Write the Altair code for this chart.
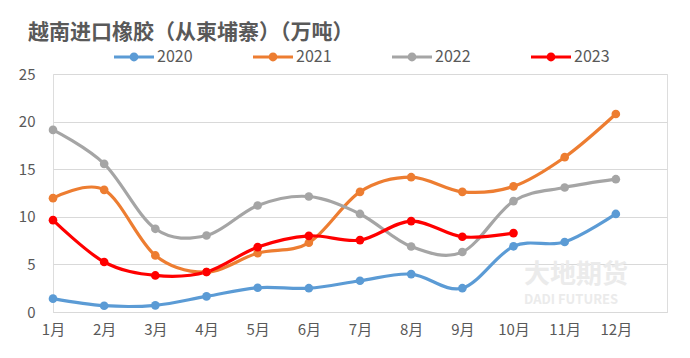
import altair as alt
import pandas as pd

months = list(range(1, 13))
years = ["2020", "2021", "2022", "2023"]
v2020 = [1.4, 0.66, 0.7, 1.64, 2.55, 2.5, 3.28, 3.98, 2.5, 6.9, 7.35, 10.3]
v2021 = [11.96, 12.83, 5.94, 4.2, 6.19, 7.27, 12.62, 14.16, 12.62, 13.2, 16.26, 20.8]
v2022 = [19.13, 15.56, 8.74, 8.04, 11.19, 12.13, 10.3, 6.88, 6.3, 11.65, 13.08, 13.95]
v2023 = [9.65, 5.25, 3.84, 4.2, 6.82, 8.0, 7.55, 9.55, 7.9, 8.29]
colors = ["#5B9BD5", "#ED7D31", "#A5A5A5", "#FF0000"]
title_text = "越南进口橡胶（从柬埔寨）（万吨）"
y_ticks = [0, 5, 10, 15, 20, 25]

rows = []
for yr, vals in zip(years, [v2020, v2021, v2022, v2023]):
    for m, v in zip(months, vals):
        rows.append({"year": yr, "month": m, "value": v})
df = pd.DataFrame(rows)

FONT = "Noto Sans CJK SC"
TXT = "#595959"

x = alt.X("month:Q", scale=alt.Scale(domain=[1, 13], nice=False, zero=False),
          axis=alt.Axis(values=months, labelExpr="datum.value + '月'", grid=False,
                        ticks=False, domainColor="#D9D9D9", labelPadding=10,
                        labelFontSize=15, labelColor=TXT, labelFont=FONT, title=None,
                        labelFlush=False))
y = alt.Y("value:Q", scale=alt.Scale(domain=[0, 25], nice=False),
          axis=alt.Axis(values=y_ticks, grid=True, gridColor="#D9D9D9", domain=False,
                        ticks=False, labelPadding=18, labelFontSize=15, labelColor=TXT,
                        labelFont=FONT, title=None))

legend_sym = ("M-1,-0.075L1,-0.075L1,0.075L-1,0.075Z "
              "M0.22,0A0.22,0.22 0 1,1 -0.22,0A0.22,0.22 0 1,1 0.22,0Z")

leg = alt.Legend(orient="none", direction="horizontal", columns=4,
                 legendX=61, legendY=-37, title=None,
                 symbolType=legend_sym, symbolSize=1600,
                 symbolStrokeWidth=0, symbolOpacity=1,
                 labelFontSize=16, labelColor=TXT, labelFont=FONT,
                 labelOffset=3, columnPadding=60, padding=0)
color = alt.Color("year:N", scale=alt.Scale(domain=years, range=colors), legend=leg)

base = alt.Chart(df)
lines = base.mark_line(interpolate="cardinal", strokeWidth=3.2).encode(
    x=x, y=y, color=color)
points = base.mark_point(filled=True, size=75, opacity=1).encode(
    x=x, y=y, color=color)

wm = pd.DataFrame({"t": ["大地期货"]})
wm2 = pd.DataFrame({"t": ["DADI FUTURES"]})
mark1 = alt.Chart(wm).mark_text(font=FONT, fontSize=26, fontWeight="bold", color="#EBEBEB",
                                align="left", baseline="middle").encode(
    text="t:N", x=alt.value(471), y=alt.value(201))
mark2 = alt.Chart(wm2).mark_text(font=FONT, fontSize=13, fontWeight="bold", color="#EBEBEB",
                                 align="left", baseline="middle").encode(
    text="t:N", x=alt.value(471), y=alt.value(226))

chart = alt.layer(mark1, mark2, lines, points).properties(
    width=614, height=238,
    autosize=alt.AutoSizeParams(type="none"),
    padding={"left": 45, "top": 66, "right": 15, "bottom": 38},
    title=alt.TitleParams(title_text, anchor="start", frame="group", dx=-25, dy=29,
                          fontSize=21, fontWeight="bold", color=TXT, font=FONT,
                          baseline="middle", offset=12),
).configure_view(stroke=None).configure(background="white")

chart.save("out.html", embed_options={"renderer": "svg", "actions": False})
